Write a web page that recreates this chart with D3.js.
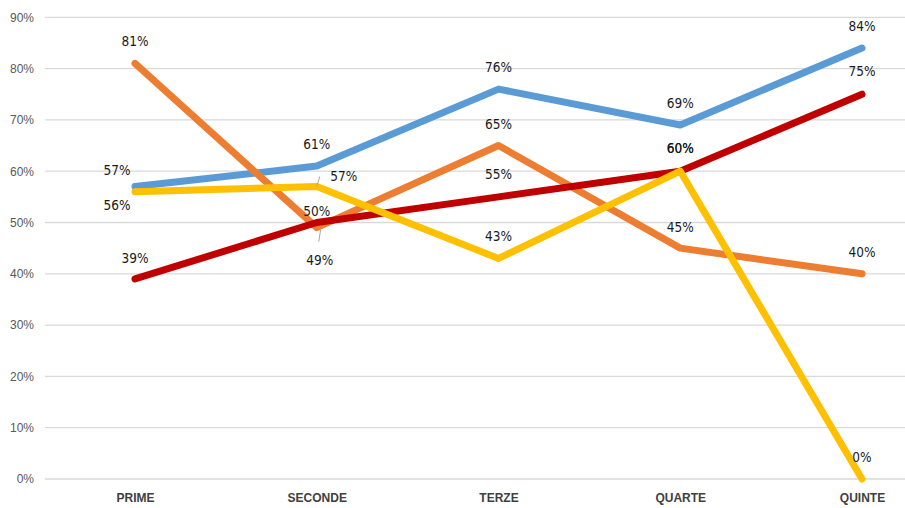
<!DOCTYPE html>
<html><head><meta charset="utf-8">
<script src="https://cdn.jsdelivr.net/npm/d3@7"></script>
<style>
html,body{margin:0;padding:0;background:#fff;}
svg{display:block;font-family:"DejaVu Sans Condensed","DejaVu Sans",sans-serif;font-stretch:condensed;}
</style></head>
<body>
<svg id="chart" width="905" height="508"></svg>
<script>
const categories = ["PRIME","SECONDE","TERZE","QUARTE","QUINTE"];
const seriesNames = ["Blu","Arancio","Rosso","Giallo"];
const blueValues   = [57, 61, 76, 69, 84];
const orangeValues = [81, 49, 65, 45, 40];
const redValues    = [39, 50, 55, 60, 75];
const yellowValues = [56, 57, 43, 60, 0];
const yTicks = [0,10,20,30,40,50,60,70,80,90];

// style / placement (not data)
const colors = ["#5B9BD5","#ED7D31","#C00000","#FFC000"];
const labelOffsets = [
  [[-18,-17],[0,-22],[0,-22],[0,-22],[0,-22]],
  [[0,-22],[3,32],[0,-22],[0,-21],[0,-22]],
  [[0,-21],[0,-12],[0,-23],[0,-23],[0,-23]],
  [[-18,13],[27,-11],[0,-22],[0,-23],[0,-22]]
];
const leaders = [null,[null,[[2,14],[4,1]],null,null,null],null,[null,[[3,-10],[0,0]],null,null,null]];

const svg = d3.select("#chart");
const x = d3.scalePoint().domain(categories).range([135, 862]);
const y = d3.scaleLinear().domain([0, 90]).range([479, 17.3]);

// gridlines
svg.append("g").selectAll("line").data(yTicks).join("line")
  .attr("x1", 45).attr("x2", 905)
  .attr("y1", d => y(d)).attr("y2", d => y(d))
  .attr("stroke", "#d9d9d9").attr("stroke-width", 1.3);

// y axis labels
const yAxis = d3.axisLeft(y).tickValues(yTicks).tickFormat(d => d + "%").tickSize(0).tickPadding(0);
const ya = svg.append("g").attr("transform", "translate(34,0)").call(yAxis);
ya.select(".domain").remove();
ya.selectAll("text").attr("fill", "#595959").attr("font-size", 12).attr("font-family", null);

// x axis labels
const xAxis = d3.axisBottom(x).tickSize(0).tickPadding(0);
const xa = svg.append("g").attr("transform", "translate(0,493)").call(xAxis);
xa.select(".domain").remove();
xa.selectAll("text").attr("fill", "#404040").attr("font-size", 12).attr("font-weight", "bold").attr("font-family", null);

const allSeries = [blueValues, orangeValues, redValues, yellowValues];
const line = d3.line().x((d, i) => x(categories[i])).y(d => y(d));

allSeries.forEach((vals, s) => {
  svg.append("path").datum(vals)
    .attr("d", line)
    .attr("fill", "none")
    .attr("stroke", colors[s])
    .attr("stroke-width", 7)
    .attr("stroke-linejoin", "round")
    .attr("stroke-linecap", "round");
});

// leader lines
allSeries.forEach((vals, s) => {
  if (!leaders[s]) return;
  vals.forEach((v, i) => {
    const l = leaders[s][i];
    if (!l) return;
    const cx = x(categories[i]), cy = y(v);
    svg.append("line")
      .attr("x1", cx + l[0][0]).attr("y1", cy + l[0][1])
      .attr("x2", cx + l[1][0]).attr("y2", cy + l[1][1])
      .attr("stroke", "#a6a6a6").attr("stroke-width", 1);
  });
});

// data labels
allSeries.forEach((vals, s) => {
  svg.append("g").selectAll("text").data(vals).join("text")
    .attr("x", (d, i) => x(categories[i]) + labelOffsets[s][i][0])
    .attr("y", (d, i) => y(d) + labelOffsets[s][i][1])
    .attr("text-anchor", "middle")
    .attr("dominant-baseline", "central")
    .attr("font-size", 13.5)
    .attr("fill", "#1a1a1a")
    .text(d => d + "%");
});
</script>
</body></html>
